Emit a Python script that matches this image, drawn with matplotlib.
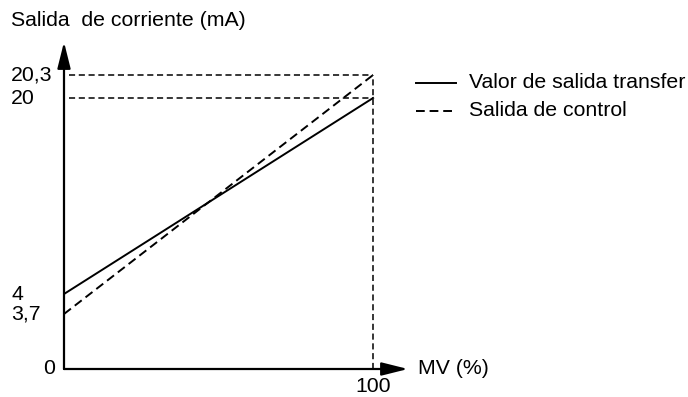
import numpy as np
import matplotlib
matplotlib.use("Agg")
import matplotlib.pyplot as plt
import matplotlib.transforms as transforms

plt.rcParams['font.family'] = ['Liberation Sans', 'DejaVu Sans']

# MV (%) and current output (mA)
mv = [0, 100]
transfer_out = [4, 20]
control_out = [3.7, 20.3]
y_ticks = [0, 3.7, 4, 20, 20.3]
y_tick_labels = ["0", "3,7", "4", "20", "20,3"]

# schematic (stretched) current axis: value knots -> drawn height
y_knots = [0, 3.7, 4, 20, 20.3, 22]
y_height = [0, 55, 75, 271, 294, 327]


def fwd(v):
    return np.interp(v, y_knots, y_height)


def inv(h):
    return np.interp(h, y_height, y_knots)


W, H = 688, 397
fig = plt.figure(figsize=(W / 100, H / 100), dpi=100)
ax = fig.add_axes([64 / W, (H - 369) / H, (408 - 64) / W, (369 - 42) / H])
ax.set_yscale('function', functions=(fwd, inv))
ax.set_xlim(0, 111.3)
ax.set_ylim(0, 22)
ax.axis('off')

# axes with narrow arrow heads
arrow = dict(arrowstyle='-|>,head_length=0.8,head_width=0.2', lw=1.6, color='k',
             mutation_scale=20, shrinkA=0, shrinkB=0)
ax.annotate('', xy=(111.3, 0), xytext=(0, 0), arrowprops=arrow, annotation_clip=False)
ax.annotate('', xy=(0, 22), xytext=(0, 0), arrowprops=arrow, annotation_clip=False)

# guide lines
guide = dict(color='k', ls=(0, (4, 2.4)), lw=1.1)
ax.plot([1.5, 100], [control_out[1]] * 2, **guide)
ax.plot([1.5, 100], [transfer_out[1]] * 2, **guide)
ax.plot([100, 100], [0, control_out[1]], **guide)

ax.plot(mv, transfer_out, 'k-', lw=1.4)
ax.plot(mv, control_out, 'k', ls=(0, (4.5, 2.5)), lw=1.4)

fs = 15.3
lab_tr = transforms.blended_transform_factory(fig.transFigure, ax.transData)
for v, s in zip(y_ticks, y_tick_labels):
    x = 43 / W if s == "0" else 11 / W
    ax.text(x, v, s, transform=lab_tr, ha='left', va='center', fontsize=fs, clip_on=False)

ax.text(100, 0, "100", ha='center', va='top', fontsize=fs, clip_on=False,
        transform=ax.transData + transforms.ScaledTranslation(0, -8 / 100, fig.dpi_scale_trans))
fig.text(418 / W, (H - 369) / H, "MV (%)", ha='left', va='center', fontsize=fs)
fig.text(11 / W, (H - 21) / H, "Salida  de corriente (mA)", ha='left', va='center', fontsize=fs)

# legend
fig.add_artist(plt.Line2D([416 / W, 456 / W], [(H - 83) / H] * 2, color='k', lw=1.4))
fig.add_artist(plt.Line2D([416 / W, 456 / W], [(H - 111) / H] * 2, color='k', lw=1.4,
                          ls=(0, (4.5, 2.5))))
fig.text(469 / W, (H - 83) / H, "Valor de salida transfer", ha='left', va='center', fontsize=fs)
fig.text(469 / W, (H - 111) / H, "Salida de control", ha='left', va='center', fontsize=fs)

fig.savefig("out.png", dpi=100)
